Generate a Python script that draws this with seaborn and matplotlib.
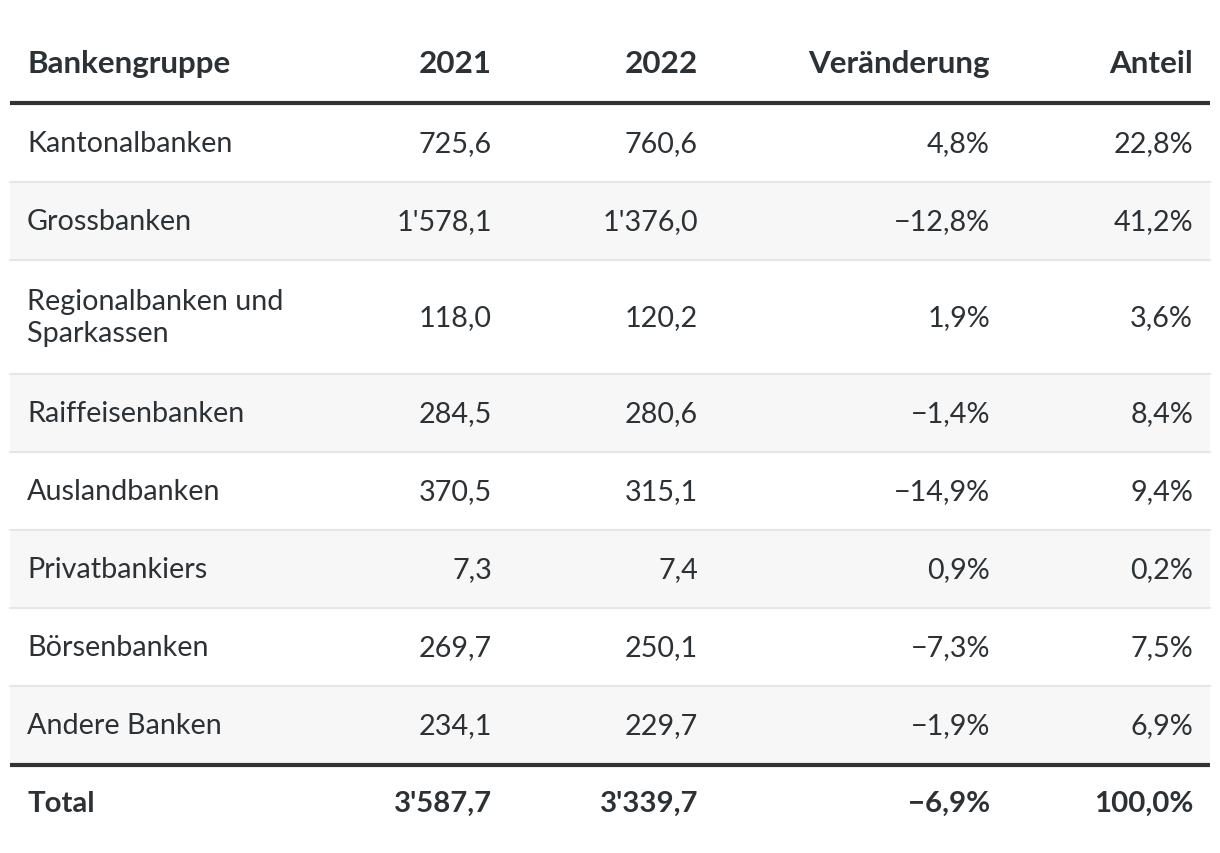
import numpy as np
import matplotlib
matplotlib.use("Agg")
import matplotlib.pyplot as plt
import seaborn as sns

# Table data
columns = ["Bankengruppe", "2021", "2022", "Veränderung", "Anteil"]
groups = ["Kantonalbanken", "Grossbanken", "Regionalbanken und\nSparkassen",
          "Raiffeisenbanken", "Auslandbanken", "Privatbankiers",
          "Börsenbanken", "Andere Banken"]
values_2021 = ["725,6", "1'578,1", "118,0", "284,5", "370,5", "7,3", "269,7", "234,1"]
values_2022 = ["760,6", "1'376,0", "120,2", "280,6", "315,1", "7,4", "250,1", "229,7"]
change = ["4,8%", "\u221212,8%", "1,9%", "\u22121,4%", "\u221214,9%", "0,9%", "\u22127,3%", "\u22121,9%"]
share = ["22,8%", "41,2%", "3,6%", "8,4%", "9,4%", "0,2%", "7,5%", "6,9%"]
total = ["Total", "3'587,7", "3'339,7", "\u22126,9%", "100,0%"]

sns.set_theme(style="white")
plt.rcParams['font.family'] = ['Lato', 'DejaVu Sans']

text_color = "#2c3135"
stripe = "#f7f7f7"
rule_light = "#e6e6e6"
rule_dark = "#333333"

fig = plt.figure(figsize=(12.2, 8.54), dpi=100)
ax = fig.add_axes([0, 0, 1, 1])
ax.set_xlim(0, 1220)
ax.set_ylim(854, 0)
ax.axis("off")

left, right = 10, 1210
text_left = 27
col_right = [492, 698, 990, 1193]
fs = 20.7
fs_head = 22.6
fs_total = 21.2

# header
header_y = 64
ax.text(text_left, header_y, columns[0], ha="left", va="center",
        fontsize=fs_head, fontweight="bold", color=text_color)
for x, c in zip(col_right, columns[1:]):
    ax.text(x, header_y, c, ha="right", va="center",
            fontsize=fs_head, fontweight="bold", color=text_color)

# body rows
row_h = [114 if "\n" in g else 78 for g in groups]
top = 105
for i, g in enumerate(groups):
    bottom = top + row_h[i]
    if i % 2 == 1:
        ax.axhspan(top, bottom, xmin=left / 1220, xmax=right / 1220,
                   color=stripe, lw=0, zorder=0)
    if i > 0:
        ax.plot([left, right], [top, top], color=rule_light, lw=1.5, zorder=1)
    cy = (top + bottom) / 2
    ax.text(text_left, cy, g, ha="left", va="center", fontsize=fs,
            color=text_color, linespacing=1.33)
    for x, v in zip(col_right, [values_2021[i], values_2022[i], change[i], share[i]]):
        ax.text(x, cy, v, ha="right", va="center", fontsize=fs, color=text_color)
    top = bottom

# thick rules
ax.plot([left, right], [104, 104], color=rule_dark, lw=3, zorder=2, solid_capstyle="butt")
ax.plot([left, right], [top + 1, top + 1], color=rule_dark, lw=3, zorder=2, solid_capstyle="butt")

# total row
total_y = 804
ax.text(text_left, total_y, total[0], ha="left", va="center",
        fontsize=fs_total, fontweight="bold", color=text_color)
for x, v in zip(col_right, total[1:]):
    ax.text(x, total_y, v, ha="right", va="center",
            fontsize=fs_total, fontweight="bold", color=text_color)

fig.savefig("out.png", dpi=100, facecolor="white")
